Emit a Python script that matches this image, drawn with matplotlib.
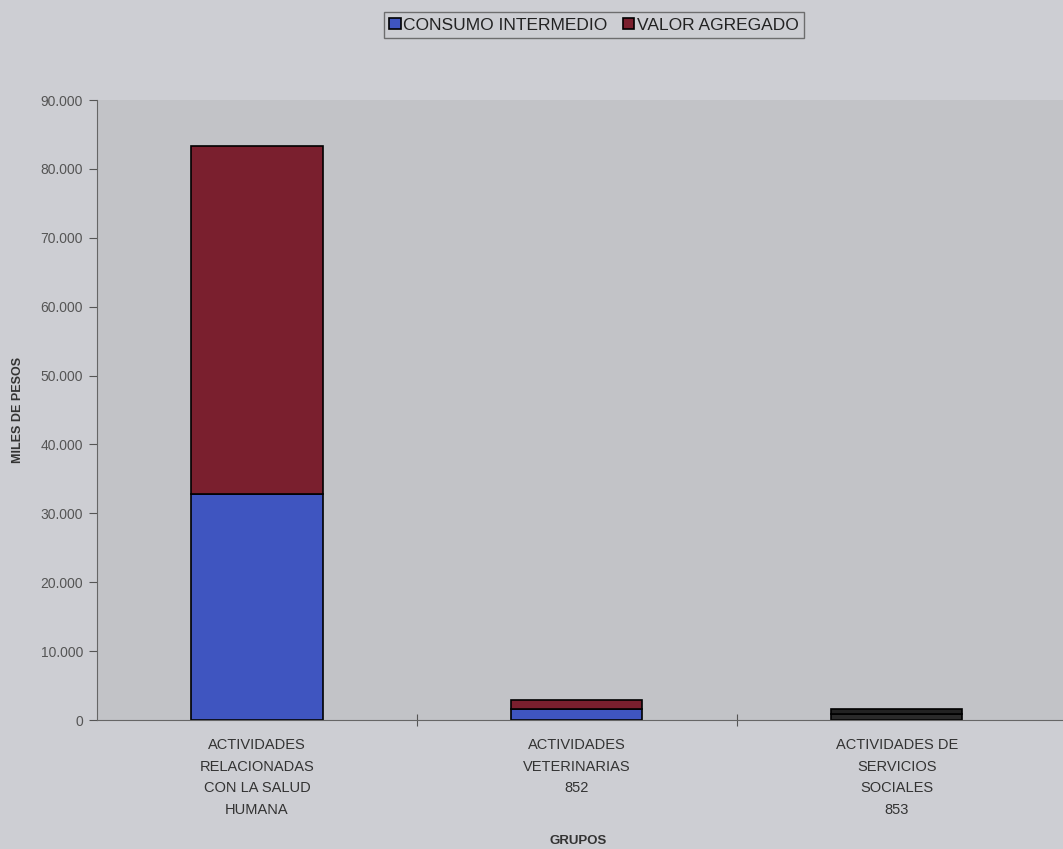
import matplotlib.pyplot as plt
import matplotlib.ticker as ticker

plt.rcParams['font.family'] = ['Liberation Sans', 'DejaVu Sans']

categorias = ["ACTIVIDADES\nRELACIONADAS\nCON LA SALUD\nHUMANA",
              "ACTIVIDADES\nVETERINARIAS\n852",
              "ACTIVIDADES DE\nSERVICIOS\nSOCIALES\n853"]
consumo_intermedio = [32800, 1600, 800]
valor_agregado = [50500, 1300, 800]


def miles(x, pos):
    return "{:,.0f}".format(x).replace(",", ".")


fig = plt.figure(figsize=(10.63, 8.49), dpi=100)
fig.patch.set_facecolor("#cdced3")
ax = fig.add_axes([97 / 1063, 1 - 720 / 849, 966 / 1063, 620 / 849])
ax.set_facecolor("#c2c3c7")

x = range(len(categorias))
b1 = ax.bar(x, consumo_intermedio, width=0.41, color="#3f55c0",
            edgecolor="black", linewidth=1.2, label="CONSUMO INTERMEDIO")
b2 = ax.bar(x, valor_agregado, width=0.41, bottom=consumo_intermedio,
            color="#7a1f2e", edgecolor="black", linewidth=1.2,
            label="VALOR AGREGADO")
# the small third bar looks almost black
b1[2].set_facecolor("#2a2a2a")
b2[2].set_facecolor("#222222")

ax.set_xlim(-0.5, 2.52)
ax.set_ylim(0, 90000)
ax.yaxis.set_major_locator(ticker.MultipleLocator(10000))
ax.yaxis.set_major_formatter(ticker.FuncFormatter(miles))
ax.set_xticks([0.5, 1.5])
ax.set_xticklabels([])
for i, c in enumerate(categorias):
    ax.text(i, -2600, c, ha="center", va="top", fontsize=10.5,
            color="#333333", linespacing=1.7)

for s in ["top", "right"]:
    ax.spines[s].set_visible(False)
ax.spines["left"].set_color("#666666")
ax.spines["bottom"].set_color("#666666")
ax.tick_params(axis="y", colors="#555555", labelsize=10, direction="out",
               length=6, pad=4)
ax.tick_params(axis="x", colors="#555555", direction="inout", length=8)
for t in ax.get_yticklabels():
    t.set_color("#555555")

ax.set_ylabel("MILES DE PESOS", fontsize=9, fontweight="bold",
              color="#333333", labelpad=12)
fig.text(578 / 1063, 1 - 841 / 849, "GRUPOS", ha="center", va="center",
         fontsize=9.5, fontweight="bold", color="#333333")

leg = fig.legend(loc="center", bbox_to_anchor=(594 / 1063, 1 - 25 / 849),
                 ncol=2, frameon=True, fontsize=12.5, handlelength=0.65,
                 handleheight=0.65, handletextpad=0.15, columnspacing=0.9,
                 borderpad=0.3, borderaxespad=0, fancybox=False)
leg.get_frame().set_edgecolor("#555555")
leg.get_frame().set_facecolor("#cdced3")
for t in leg.get_texts():
    t.set_color("#222222")

plt.savefig("out.png", dpi=100, facecolor=fig.get_facecolor())
